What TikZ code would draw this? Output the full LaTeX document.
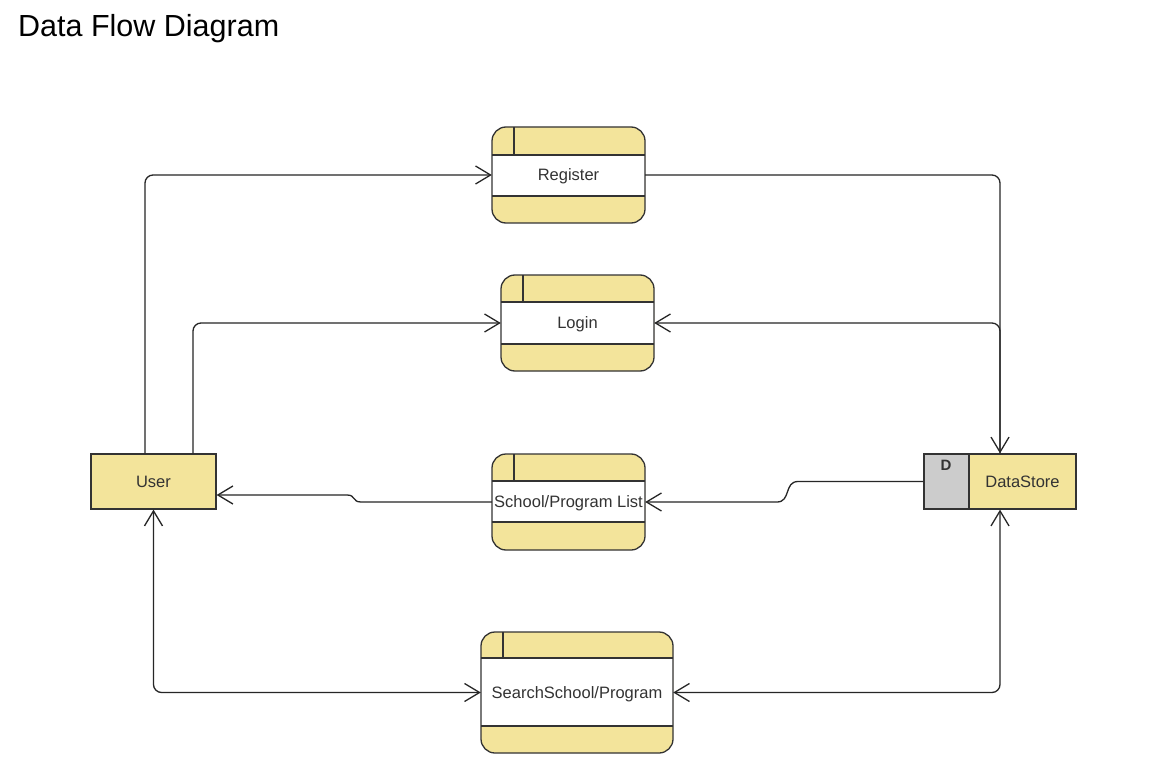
\documentclass[tikz,border=0pt]{standalone}
\usepackage{fontspec}
\setmainfont{Liberation Sans}
\usetikzlibrary{arrows.meta}
\definecolor{procY}{HTML}{F3E49B}
\definecolor{dsG}{HTML}{CCCCCC}
\definecolor{edge}{HTML}{333333}
\newcommand\procbox[9]{%
  \fill[procY, rounded corners=14pt] (#2,#3) rectangle (#4,#5);
  \fill[white] (#2,#6) rectangle (#4,#7);
  \draw[boxline] (#2,#6) -- (#4,#6);
  \draw[boxline] (#2,#7) -- (#4,#7);
  \draw[boxline] (#8,#3) -- (#8,#6);
  \draw[boxline, rounded corners=14pt] (#2,#3) rectangle (#4,#5);
  \node[lbl, inner sep=0pt, minimum width={#4-#2}, minimum height={#5-#3}] (#1) at ({(#2+#4)/2},{(#3+#5)/2}) {#9};
}
\begin{document}
\begin{tikzpicture}[x=1pt,y=-1pt,
  boxline/.style={draw=edge, line width=1.3pt},
  lbl/.style={font=\fontsize{16.5}{20}\selectfont, text=black!80, text depth=0pt},
  flow/.style={draw=black!85, line width=1.3pt, rounded corners=8pt},
  tip/.style={-{Straight Barb[length=15pt,width=18pt,line width=1.3pt]}},
  tips/.style={{Straight Barb[length=15pt,width=18pt,line width=1.3pt]}-{Straight Barb[length=15pt,width=18pt,line width=1.3pt]}}
]
\useasboundingbox (0,0) rectangle (1162,778);
\fill[white] (0,0) rectangle (1162,778);

\node[anchor=base west, font=\fontsize{30.5}{36}\selectfont, inner sep=0pt] (title) at (18,37) {Data Flow Diagram};

% processes
\procbox{reg}{492}{127}{645}{223}{155}{196}{514}{Register}
\procbox{login}{501}{275}{654}{371}{302}{344}{523}{Login}
\procbox{list}{492}{454}{645}{550}{481}{522}{514}{School/Program List}
\procbox{search}{481}{632}{673}{753}{658}{726}{503}{SearchSchool/Program}

% user
\fill[procY] (91,454) rectangle (216,509);
\node[boxline, lbl, minimum width=125pt, minimum height=55pt, inner sep=0pt] (user) at (153.5,481.5) {User};

% datastore
\fill[dsG] (924,454) rectangle (969,509);
\fill[procY] (969,454) rectangle (1076,509);
\draw[boxline] (969,454) -- (969,509);
\node[boxline, minimum width=152pt, minimum height=55pt, inner sep=0pt] (ds) at (1000,481.5) {};
\node[lbl] (dsl) at (1022.5,481.5) {DataStore};
\node[lbl, font=\fontsize{15}{18}\selectfont\bfseries] (dsd) at (946,465) {D};

% connectors
\draw[flow, tip] ([xshift=-8.5pt]user.north) |- (reg.west);
\draw[flow, tip] ([xshift=39.5pt]user.north) |- (login.west);
\draw[flow, tip] (reg.east) -| (ds.north);
\draw[flow, tip] (ds.north) |- (login.east);

\coordinate (c1) at (798,481.5);
\coordinate (c2) at (777,502);
\draw[flow, sharp corners, tip] (ds.west) -- (c1) .. controls (784,481.5) and (791,502) .. (c2) -- (list.east);

\coordinate (c3) at (361,502);
\coordinate (c4) at (347,495);
\draw[flow, sharp corners, tip] (list.west) -- (c3) .. controls (352,502) and (356,495) .. (c4) -- ([yshift=-13.5pt]user.east);

\draw[flow, tips] (user.south) |- (search.west);
\draw[flow, tips] (search.east) -| (ds.south);
\end{tikzpicture}
\end{document}
